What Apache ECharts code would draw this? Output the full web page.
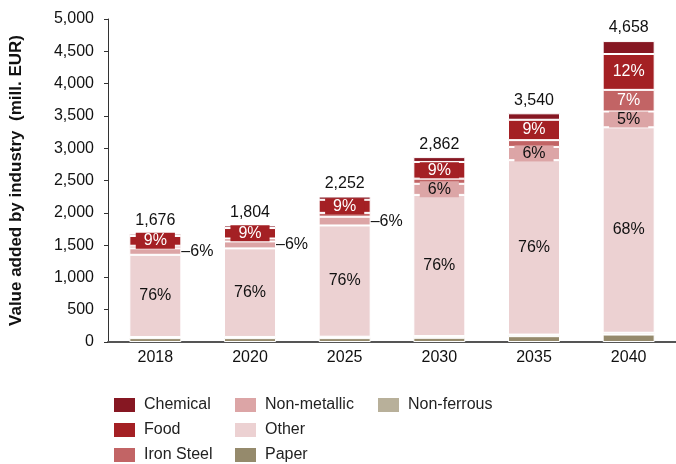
<!DOCTYPE html>
<html><head><meta charset="utf-8">
<script src="https://cdn.jsdelivr.net/npm/echarts@6/dist/echarts.min.js"></script>
<style>html,body{margin:0;padding:0;background:#fff}#c{width:676px;height:464px}</style>
</head><body><div id="c"></div>
<script>
const years = ['2018','2020','2025','2030','2035','2040'];
const paper = [60, 60, 60, 65, 90, 115];
const nonFerrous = [16, 18, 22, 27, 25, 28];
const other = [1274, 1371, 1722, 2185, 2700, 3180];
const nonMetallic = [100, 108, 135, 172, 205, 245];
const ironSteel = [40, 45, 60, 80, 105, 335];
const food = [151, 162, 203, 258, 315, 555];
const chemical = [35, 40, 50, 75, 100, 200];
const yTicks = [0, 500, 1000, 1500, 2000, 2500, 3000, 3500, 4000, 4500, 5000];

const totals = years.map((_, i) => paper[i] + nonFerrous[i] + other[i] + nonMetallic[i] + ironSteel[i] + food[i] + chemical[i]);
const pct = (arr, i) => Math.round(arr[i] / totals[i] * 100) + '%';
const fmt = v => v.toLocaleString('en-US');

const C = {
  Chemical: '#861722', Food: '#a42024', 'Iron Steel': '#c26465', 'Non-metallic': '#dca5a6',
  Other: '#ecd1d2', Paper: '#958a6c', 'Non-ferrous': '#b8b09a'
};
const FONT = 'Liberation Sans, Arial, sans-serif';
const FS = 16;

function ser(name, data, label) {
  return {
    name, type: 'bar', stack: 't', data, barWidth: 52,
    itemStyle: { color: C[name], borderColor: '#fff', borderWidth: 1 },
    label: label || { show: false }
  };
}

const nonMetData = nonMetallic.map((v, i) => {
  if (i < 3) {
    return { value: v, label: { show: true, position: 'right', distance: 0, formatter: '–' + pct(nonMetallic, i), color: '#111', fontSize: FS, fontFamily: FONT } };
  }
  return { value: v, label: { show: true, position: 'inside', formatter: pct(nonMetallic, i), color: '#111', fontSize: FS, fontFamily: FONT, backgroundColor: C['Non-metallic'], padding: [0, 8] } };
});
const ironData = ironSteel.map((v, i) => i === 5 ?
  { value: v, label: { show: true, position: 'inside', formatter: pct(ironSteel, i), color: '#fff', fontSize: FS, fontFamily: FONT } } : v);

const legendPos = [
  ['Chemical', 112, 396], ['Food', 112, 421], ['Iron Steel', 112, 446],
  ['Non-metallic', 233, 396], ['Other', 233, 421], ['Paper', 233, 446],
  ['Non-ferrous', 376, 396]
];

const option = {
  backgroundColor: '#fff',
  animation: false,
  grid: { left: 102, right: -9, top: 19, bottom: 122 },
  legend: legendPos.map(([n, x, y]) => ({
    data: [n], left: x, top: y, itemWidth: 23, itemHeight: 16, icon: 'rect', padding: 0,
    textStyle: { fontSize: FS, color: '#222', fontFamily: FONT, padding: [0, 0, 0, 3] }
  })),
  xAxis: {
    type: 'category', data: years,
    axisLine: { lineStyle: { color: '#555', width: 2 } },
    axisTick: { show: false },
    axisLabel: { fontSize: FS, color: '#111', fontFamily: FONT, margin: 8 }
  },
  yAxis: {
    type: 'value', min: 0, max: 5000, interval: 500,
    name: 'Value added by industry  (mill. EUR)', nameLocation: 'middle', nameGap: 83,
    nameTextStyle: { fontSize: 17, fontWeight: 'bold', color: '#111', fontFamily: FONT },
    axisLine: { show: true, lineStyle: { color: '#333', width: 1 } },
    axisTick: { show: true, length: 4, lineStyle: { color: '#333' } },
    splitLine: { show: false },
    axisLabel: { fontSize: FS, color: '#111', fontFamily: FONT, margin: 14,
      formatter: v => yTicks.includes(v) ? fmt(v) : '' }
  },
  series: [
    ser('Paper', paper),
    ser('Non-ferrous', nonFerrous),
    ser('Other', other, { show: true, position: 'inside', formatter: p => pct(other, p.dataIndex), color: '#111', fontSize: FS, fontFamily: FONT }),
    Object.assign(ser('Non-metallic', nonMetData), { label: { show: true } }),
    Object.assign(ser('Iron Steel', ironData), { label: { show: false } }),
    ser('Food', food, { show: true, position: 'inside', formatter: p => pct(food, p.dataIndex), color: '#fff', fontSize: FS, fontFamily: FONT, backgroundColor: C.Food, padding: [0, 8] }),
    ser('Chemical', chemical, { show: true, position: 'top', distance: 5, formatter: p => fmt(totals[p.dataIndex]), color: '#111', fontSize: FS, fontFamily: FONT })
  ]
};
echarts.init(document.getElementById('c')).setOption(option);
</script></body></html>
